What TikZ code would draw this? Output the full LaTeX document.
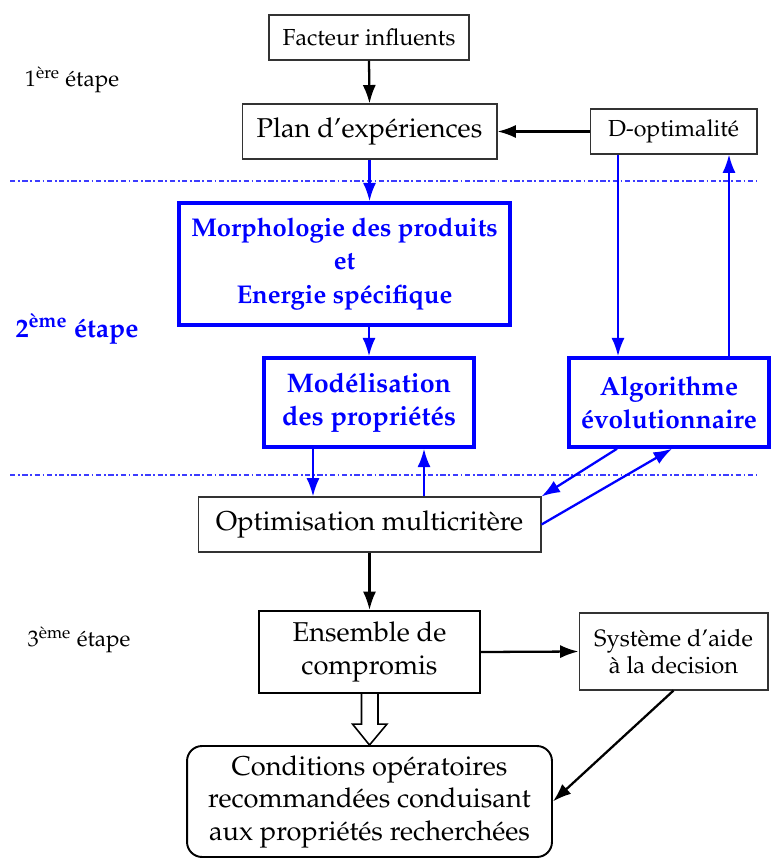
\documentclass[tikz,border=0pt]{standalone}
\usepackage[T1]{fontenc}
\usepackage{mathpazo}
\usepackage{tikz}
\usetikzlibrary{arrows.meta,calc}
\definecolor{BleuEtape}{RGB}{0,0,255}
\definecolor{BleuTrait}{RGB}{60,60,255}

\begin{document}
\begin{tikzpicture}[x=0.02cm,y=-0.02cm,>={Latex[length=10.5pt,width=7.5pt]},
  boite/.style={draw=black!80,line width=0.6pt,align=center,inner sep=0pt,
    font=\fontsize{15.5}{18.5}\selectfont},
  petite/.style={boite,font=\fontsize{13.2}{15.5}\selectfont},
  bleue/.style={draw=BleuEtape,line width=2pt,align=center,inner sep=0pt,
    text=BleuEtape,font=\fontsize{15.3}{19}\selectfont\bfseries},
  etape/.style={font=\fontsize{12.8}{15}\selectfont},
  fleche/.style={->,line width=1.3pt},
  flechebleue/.style={fleche,BleuEtape},
  separation/.style={BleuTrait,line width=0.6pt,
    dash pattern=on 3pt off 1.5pt on 1pt off 1.5pt}]
  \useasboundingbox (0,0) rectangle (770,861);

  % 1ere etape
  \node[petite,minimum width=4cm,minimum height=0.9cm] (fact) at (369,37.5)
       {Facteur influents};
  \node[boite,minimum width=5.1cm,minimum height=1.1cm] (plan) at (369.5,131.5)
       {Plan d'expériences};
  \node[petite,minimum width=3.34cm,minimum height=0.9cm] (dopt) at (673.5,131.5)
       {D-optimalité};
  \node[etape] (e1) at (72,80) {1\textsuperscript{ère} étape};

  \draw[separation] (10,181) -- (757,181);
  \draw[separation] (10,475) -- (757,475);

  % 2eme etape
  \node[bleue,font=\fontsize{14.6}{19}\selectfont\bfseries,minimum width=6.62cm,
       minimum height=2.44cm] (morph) at (344.5,264)
       {Morphologie des produits\\et\\Energie spécifique};
  \node[bleue,minimum width=4.2cm,minimum height=1.78cm] (model) at (369,402.5)
       {Modélisation\\des propriétés};
  \node[bleue,font=\fontsize{14.9}{19}\selectfont\bfseries,minimum width=4cm,
       minimum height=1.78cm] (algo) at (669,402.5) {Algorithme\\évolutionnaire};
  \node[etape,text=BleuEtape,font=\fontsize{15}{18}\selectfont\bfseries] (e2)
       at (77,329) {2\textsuperscript{ème} étape};
  \node[boite,minimum width=6.86cm,minimum height=1.1cm] (optim) at (369.5,524.5)
       {Optimisation multicritère};

  % 3eme etape
  \node[boite,draw=black,line width=1.2pt,minimum width=4.42cm,minimum height=1.64cm]
       (ens) at (369.5,652) {Ensemble de\\compromis};
  \node[petite,font=\fontsize{13.5}{15.4}\selectfont,minimum width=3.78cm,
       minimum height=1.54cm] (sys) at (673.5,651.5) {Système d'aide\\à la decision};
  \node[boite,draw=black,line width=1.1pt,rounded corners=0.3cm,minimum width=7.3cm,
       minimum height=2.22cm] (cond) at (369.5,801.5)
       {Conditions opératoires\\recommandées conduisant\\aux propriétés recherchées};
  \node[etape] (e3) at (79,640) {3\textsuperscript{ème} étape};

  \coordinate (xa) at (313,0);
  \coordinate (xb) at (424,0);
  \coordinate (xc) at (618,0);
  \coordinate (xd) at (729,0);

  \draw[fleche] (fact.south) -- (plan.north);
  \draw[fleche] (dopt.west) -- (plan.east);
  \draw[flechebleue] (plan.south) -- (morph.north -| plan.south);
  \draw[flechebleue] (morph.south -| model.north) -- (model.north);
  \draw[flechebleue] (xc |- dopt.south) -- (xc |- algo.north);
  \draw[flechebleue] (xd |- algo.north) -- (xd |- dopt.south);
  \draw[flechebleue] (xa |- model.south) -- (xa |- optim.north);
  \draw[flechebleue] (xb |- optim.north) -- (xb |- model.south);
  \draw[flechebleue] ($(algo.south)+(-52,0)$) -- (optim.north east);
  \draw[flechebleue] (optim.east) -- ($(algo.south)+(3,0)$);
  \draw[fleche] (optim.south) -- (ens.north);
  \draw[fleche] (ens.east) -- (sys.west);
  \draw[fleche] (sys.south) -- (cond.east);

  % fleche creuse
  \draw[line width=0.9pt,fill=white] ($(ens.south)+(-8,0)$) -- ++(0,30) -- ++(-9,0)
       -- (cond.north) -- ($(ens.south)+(17.5,30)$) -- ++(-9,0) -- ($(ens.south)+(8.5,0)$);
\end{tikzpicture}
\end{document}
